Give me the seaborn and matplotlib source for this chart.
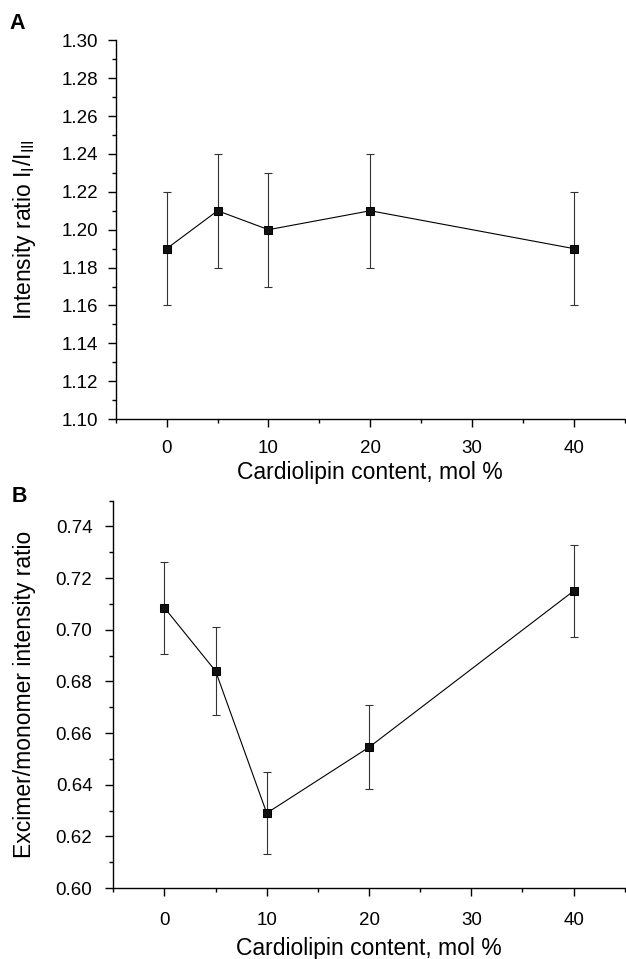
import matplotlib
matplotlib.use("Agg")
import matplotlib.pyplot as plt
import seaborn as sns
import pandas as pd
from matplotlib.ticker import MultipleLocator, FormatStrFormatter

cardiolipin = [0, 5, 10, 20, 40]
ratio_a = [1.19, 1.21, 1.20, 1.21, 1.19]
err_a = [0.03, 0.03, 0.03, 0.03, 0.03]
ratio_b = [0.7085, 0.684, 0.629, 0.6545, 0.715]
err_b = [0.0178, 0.017, 0.016, 0.0163, 0.0178]
xlabel = "Cardiolipin content, mol %"
ylabel_a = r"Intensity ratio I$_\mathregular{I}$/I$_\mathregular{III}$"
ylabel_b = "Excimer/monomer intensity ratio"

sns.set_style("ticks")
plt.rcParams["font.family"] = ["Liberation Sans", "DejaVu Sans"]
plt.rcParams["mathtext.fontset"] = "custom"
plt.rcParams["mathtext.rm"] = "Liberation Sans"
for k in ["text.color", "axes.labelcolor", "xtick.color", "ytick.color", "axes.edgecolor"]:
    plt.rcParams[k] = "black"

fig = plt.figure(figsize=(6.26, 9.59), dpi=100)
axA = fig.add_axes([0.185, 0.563, 0.813, 0.395])
axB = fig.add_axes([0.181, 0.074, 0.817, 0.404])

def draw(ax, y, e, ylim, ylabel, ylabelpad, ypad, xpad, xlabelpad):
    df = pd.DataFrame({"x": cardiolipin, "y": y})
    ax.errorbar(cardiolipin, y, yerr=e, fmt="none", ecolor="#333333",
                elinewidth=0.8, capsize=3, capthick=0.8, zorder=2)
    sns.lineplot(data=df, x="x", y="y", ax=ax, color="black", linewidth=0.8,
                 marker="s", markersize=6.2, markeredgecolor="black",
                 markerfacecolor="#111111", zorder=3)
    ax.set_xlim(-5, 45)
    ax.set_ylim(*ylim)
    ax.xaxis.set_major_locator(MultipleLocator(10))
    ax.xaxis.set_minor_locator(MultipleLocator(5))
    ax.yaxis.set_major_locator(MultipleLocator(0.02))
    ax.yaxis.set_minor_locator(MultipleLocator(0.01))
    ax.tick_params(which="major", length=6, width=1, labelsize=13.5, direction="out")
    ax.tick_params(axis="x", which="major", pad=xpad)
    ax.tick_params(axis="y", which="major", pad=ypad)
    ax.tick_params(which="minor", length=3, width=1, direction="out")
    for s in ["top", "right"]:
        ax.spines[s].set_visible(False)
    for s in ["left", "bottom"]:
        ax.spines[s].set_linewidth(1)
    ax.set_xlabel(xlabel, fontsize=16.5, labelpad=xlabelpad)
    ax.set_ylabel(ylabel, fontsize=16.5, labelpad=ylabelpad)
    ax.yaxis.set_major_formatter(FormatStrFormatter("%.2f"))

draw(axA, ratio_a, err_a, (1.10, 1.30), ylabel_a, 17, 7, 9, 3)
draw(axB, ratio_b, err_b, (0.60, 0.75), ylabel_b, 14, 9, 11, 6)
axB.set_yticks([0.60, 0.62, 0.64, 0.66, 0.68, 0.70, 0.72, 0.74])

fig.text(0.015, 0.975, "A", fontsize=15.5, fontweight="bold", va="center")
fig.text(0.018, 0.482, "B", fontsize=15.5, fontweight="bold", va="center")

fig.savefig("out.png", dpi=100)
